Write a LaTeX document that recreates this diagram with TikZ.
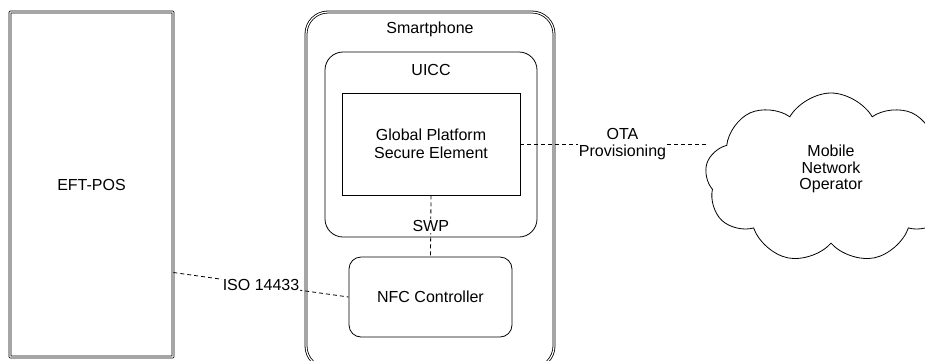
\documentclass[tikz,border=0pt]{standalone}
\usepackage{fontspec}
\setmainfont{Liberation Sans}
\usepackage{tikz}
\usetikzlibrary{positioning, shapes.symbols}
\tikzset{
    device/.style={rectangle, draw=black, line width=0.8pt, double, double distance=1.2pt, rounded corners=0.6pt, align=center, inner sep=0pt},
    phone/.style={device, rounded corners=22pt},
    chip/.style={rectangle, draw=black, line width=0.8pt, rounded corners=18pt, inner sep=0pt},
    element/.style={rectangle, draw=black, line width=0.8pt, align=center, inner sep=0pt},
    ctrl/.style={rectangle, draw=black, line width=0.8pt, rounded corners=12pt, align=center, inner sep=0pt},
    operator/.style={cloud, cloud puffs=9, cloud puff arc=120, cloud ignores aspect, draw=black, line width=0.8pt, align=center, inner sep=0pt},
    link/.style={draw=black, line width=0.8pt, dash pattern=on 4pt off 3pt},
    tag/.style={fill=white, inner sep=1pt, align=center}
}

\begin{document}
\begin{tikzpicture}[x=1pt, y=-1pt, font=\fontsize{16}{18.5}\selectfont]
        \useasboundingbox (0,0) rectangle (925,360);

        % Terminal
        \node[device, minimum width=163pt, minimum height=345pt] (EFT) at (91.5,184.5) {EFT-POS};

        % Phone and its parts
        \node[phone, minimum width=248pt, minimum height=356pt] (Phone) at (430,190) {};
        \node[below=7pt of Phone.north] (PhoneLbl) {Smartphone};
        \node[chip, minimum width=212pt, minimum height=185pt] (UICC) at (431,144.5) {};
        \node[below=9pt of UICC.north] (UICCLbl) {UICC};
        \node[element, minimum width=178pt, minimum height=102pt] (SE) at (431,144) {Global Platform\\Secure Element};
        \node[ctrl, minimum width=163pt, minimum height=80pt] (NFC) at (430.5,297) {NFC Controller};

        % Network
        \node[operator, minimum width=252pt, minimum height=170pt,
              label={[align=center, yshift=9pt]center:Mobile\\[-2pt]Network\\[-2pt]Operator}] (MNO) at (831,178) {};

        % Links
        \draw[link] ([yshift=-88pt]EFT.east) -- node[tag] {ISO 14433} (NFC.west);
        \draw[link] (SE.south) -- node[tag] {SWP} (NFC.north);
        \draw[link] (SE.east) -- node[tag, pos=0.55] {OTA\\[-2pt]Provisioning} (SE.east -| MNO.west);
    \end{tikzpicture}
\end{document}
